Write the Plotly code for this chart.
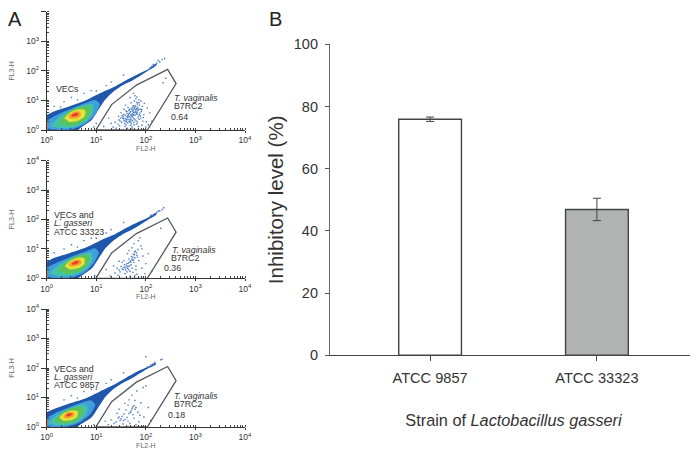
import plotly.graph_objects as go

# panel B values
STRAINS = ['ATCC 9857', 'ATCC 33323']
INHIBITION = [75.9, 46.9]
INHIBITION_ERR = [0.7, 3.6]
BAR_COLORS = ['white', '#b1b3b3']

# flow cytometry panels, all values are log10 decades
GATE_X = [0.99, 1.31, 1.81, 2.44, 2.61, 2.03, 0.99]
GATE_Y = [0, 0.86, 1.52, 2.05, 1.57, 0, 0]

LAYER_COLORS = ['#1f57ad', '#3f9fdc', '#45c3a8', '#5cc25a', '#e6e23a', '#f4a22d', '#e8432a']

A1_BLUE_X = [0, .134, .403, .805, 1.074, 1.342, 1.611, 1.879, 2.047, 2.215, 2.215, 2.013, 1.745, 1.544, 1.342, 1.174, 1.04, .906, .671, .638, 0]
A1_BLUE_Y = [.507, .62, .767, 1.015, 1.24, 1.443, 1.691, 1.917, 2.052, 2.255, 2.187, 1.973, 1.691, 1.522, 1.297, 1.015, .677, .338, .056, 0, 0]
A1_L1_X = [0, .2, .47, .77, .97, 1.07, .97, .77, .5, .07, 0]
A1_L1_Y = [.316, .507, .699, .902, 1.015, .879, .507, .203, .023, .023, .1]
A1_L2_X = [.07, .27, .5, .77, .93, .94, .81, .57, .27]
A1_L2_Y = [.135, .451, .676, .846, .879, .62, .316, .113, .056]
A1_L3_X = [.235, .37, .57, .79, .886, .84, .67, .436]
A1_L3_Y = [.248, .507, .733, .812, .733, .451, .225, .135]
A1_L4_X = [.35, .47, .64, .77, .77, .64, .456]
A1_L4_Y = [.395, .586, .699, .676, .473, .316, .27]
A1_L5_X = [.436, .537, .67, .69, .59, .47]
A1_L5_Y = [.473, .609, .62, .485, .395, .383]
A1_L6_X = [.497, .59, .65, .604, .51]
A1_L6_Y = [.507, .586, .552, .473, .451]

A2_BLUE_X = [0, .134, .403, .805, 1.074, 1.342, 1.611, 1.879, 2.047, 2.215, 2.215, 2.013, 1.745, 1.544, 1.342, 1.174, 1.04, .906, .671, .638, 0]
A2_BLUE_Y = [.56, .68, .83, 1.06, 1.28, 1.47, 1.72, 1.94, 2.07, 2.24, 2.17, 1.96, 1.68, 1.51, 1.28, 1.0, .66, .33, .05, 0, 0]
A2_L1_X = [0, .2, .47, .77, .97, 1.05, .95, .77, .5, .07, 0]
A2_L1_Y = [.36, .53, .72, .9, 1.02, .88, .52, .21, .03, .03, .1]
A2_L2_X = [.05, .25, .5, .75, .9, .92, .8, .57, .27]
A2_L2_Y = [.16, .46, .68, .83, .87, .62, .33, .12, .07]
A2_L3_X = [.22, .36, .57, .78, .87, .82, .66, .42]
A2_L3_Y = [.26, .51, .74, .81, .73, .46, .24, .15]
A2_L4_X = [.36, .47, .63, .76, .76, .63, .46]
A2_L4_Y = [.42, .59, .7, .68, .49, .34, .3]
A2_L5_X = [.44, .54, .68, .7, .58, .47]
A2_L5_Y = [.48, .61, .63, .5, .41, .4]
A2_L6_X = [.5, .6, .66, .6, .52]
A2_L6_Y = [.52, .59, .56, .48, .46]

A3_BLUE_X = [0, .134, .403, .805, 1.074, 1.342, 1.611, 1.879, 2.047, 2.2, 2.2, 2.013, 1.745, 1.544, 1.342, 1.174, 1.04, .906, .66, .62, 0]
A3_BLUE_Y = [.5, .6, .76, .98, 1.2, 1.42, 1.68, 1.92, 2.04, 2.18, 2.12, 1.96, 1.68, 1.5, 1.28, 1.0, .66, .33, .06, 0, 0]
A3_L1_X = [0, .17, .42, .7, .9, .98, .88, .68, .42, .05, 0]
A3_L1_Y = [.3, .47, .64, .82, .9, .76, .44, .17, .02, .02, .1]
A3_L2_X = [.04, .2, .42, .66, .8, .82, .7, .48, .2]
A3_L2_Y = [.14, .4, .6, .74, .76, .54, .27, .09, .05]
A3_L3_X = [.14, .27, .46, .66, .74, .7, .54, .32]
A3_L3_Y = [.2, .42, .62, .68, .6, .36, .17, .11]
A3_L4_X = [.25, .36, .5, .62, .62, .5, .33]
A3_L4_Y = [.32, .48, .56, .54, .36, .24, .21]
A3_L5_X = [.33, .43, .54, .56, .46, .36]
A3_L5_Y = [.38, .5, .5, .38, .3, .29]
A3_L6_X = [.39, .47, .52, .47, .4]
A3_L6_Y = [.42, .47, .44, .37, .35]

A1_DOTS = [(1.62,.62),(1.68,.58),(1.71,.70),(1.74,.66),(1.77,.74),(1.80,.68),(1.83,.78),(1.66,.44),(1.70,.52),(1.75,.60),
           (1.79,.64),(1.84,.72),(1.87,.84),(1.60,.36),(1.64,.48),(1.69,.40),(1.73,.56),(1.78,.50),(1.82,.60),(1.86,.92),
           (1.58,.30),(1.63,.42),(1.67,.34),(1.72,.46),(1.76,.38),(1.81,.54),(1.85,.46),(1.90,.70),(1.55,.38),(1.61,.28),
           (1.65,.52),(1.70,.30),(1.74,.42),(1.79,.34),(1.83,.88),(1.88,.58),(1.93,.80),(1.52,.48),(1.57,.22),(1.62,.56),
           (1.68,.26),(1.73,.32),(1.77,.98),(1.84,.40),(1.91,.62),(1.97,.90),(1.48,.30),(1.54,.44),(1.60,.18),(1.66,.66),
           (1.71,.22),(1.76,.26),(1.82,.30),(1.89,.48),(1.96,.52),(2.03,.74),(1.44,.20),(1.50,.58),(1.58,.12),(1.64,.76),
           (1.69,.16),(1.75,.82),(1.81,.20),(1.87,.36),(1.94,.30),(2.08,.58),(1.38,.26),(1.47,.14),(1.56,.70),(1.63,.06),
           (1.72,.10),(1.80,1.06),(1.92,.16),(2.01,.28),(1.34,.10),(1.46,.34),(1.59,.84),(1.70,.92),(1.78,1.16),(1.86,1.02),
           (2.00,.10),(1.75,1.24),(1.82,1.12),(1.90,.98),(1.68,1.10),(1.95,.42),(1.85,.12),(1.72,.04),(2.05,.18),(2.12,.30),
           (1.40,.06),(1.30,.22),(1.25,.40),(2.4,1.75),(2.35,1.6),(1.15,.12),
           (1.72,.74),(1.78,.78),(1.81,.72),(1.76,.70),(1.73,.64),(1.80,.60),(1.84,.66),(1.69,.62),(1.66,.56),(1.71,.48),
           (1.75,.52),(1.62,.46),(1.59,.40),(1.64,.36),(1.68,.46),(1.61,.34),(1.56,.32),(1.53,.40),(1.58,.50),(1.66,.28),
           (1.74,.50),(1.77,.58),(1.83,.54),(1.86,.70),(1.79,.82),(1.82,.94),(1.74,.78),(1.70,.36),(1.63,.24),(1.51,.26),
           (1.87,.52),(1.92,.68),(1.90,.40),(1.67,.70),(1.60,.64),(1.55,.52),(1.49,.40),(1.45,.46),(1.76,.18),(1.83,.24)]
A2_DOTS = [(1.66,.66),(1.71,.74),(1.75,.82),(1.79,.92),(1.68,.56),(1.73,.62),(1.78,.70),(1.62,.50),(1.70,.46),(1.76,.54),
           (1.82,.78),(1.60,.38),(1.65,.30),(1.72,.34),(1.84,.98),(1.57,.46),(1.54,.30),(1.50,.40),(1.48,.22),(1.58,.16),
           (1.64,.40),(1.68,.24),(1.74,.20),(1.80,.42),(1.86,.60),(1.90,1.10),(1.94,.76),(1.42,.34),(1.38,.18),(1.44,.10),
           (1.56,.60),(1.63,.84),(1.76,1.18),(1.85,1.28),(1.92,.34),(2.0,.50),(2.05,.84),(1.35,.42),(1.28,.08),(1.68,.08),
           (1.82,.14),(1.98,.16),(1.88,1.38),(1.72,1.04),(1.52,.54),(1.46,.58),(1.80,.30),(2.12,.24),(1.62,.22),(1.20,.30),
           (2.3,1.7),(1.78,.10),(1.92,1.0),(1.66,.94),
           (1.74,.72),(1.77,.80),(1.72,.66),(1.69,.60),(1.65,.52),(1.61,.44),(1.58,.36),(1.63,.34),(1.55,.38),(1.52,.32),
           (1.70,.54),(1.75,.62),(1.81,.86),(1.77,.90),(1.83,.72),(1.67,.42),(1.59,.28),(1.46,.28)]
A3_DOTS = [(1.62,.32),(1.58,.26),(1.52,.36),(1.48,.22),(1.44,.30),(1.40,.18),(1.56,.44),(1.66,.46),(1.72,.62),(1.76,.72),
           (1.70,.54),(1.80,.66),(1.74,.42),(1.84,.50),(1.64,.74),(1.60,.58),(1.36,.12),(1.30,.24),(1.68,.12),(1.78,.90),
           (1.90,.82),(1.96,.34),(1.86,.18),(1.54,.10),(1.42,.46),(1.72,1.08),(1.82,1.22),(1.95,1.34),(2.05,.66),(2.1,.22),
           (1.66,.92),(1.58,.80),(1.46,.60),(1.76,.30),(1.24,.08),(2.0,1.4),(1.88,.40),(1.18,.20),(1.64,.2),(1.8,.08),
           (1.5,.28),(1.46,.34),(1.55,.22),(1.73,.68),(1.78,.60),(1.69,.5)]

# stray events around the main population
A1_STRAY = [(2.08,2.1),(2.12,2.16),(2.18,2.2),(2.22,2.27),(2.28,2.3),(2.33,2.38),(2.38,2.42),(2.1,2.08),(2.15,2.22),(2.25,2.35),
            (.9,1.33),(.5,1.1),(1.3,1.62),(.75,1.24),(1.55,1.86),(.35,.95),(.15,.8),(1.0,1.32),(.62,1.02),(1.2,1.5),(.28,.78),(.95,.1),(1.0,.22)]
A2_STRAY = [(2.08,2.08),(2.12,2.15),(2.18,2.2),(2.22,2.25),(2.28,2.3),(2.33,2.34),(2.36,2.4),(2.1,2.14),(2.15,2.12),(2.25,2.28),
            (.9,1.36),(.5,1.14),(1.3,1.66),(.75,1.28),(1.55,1.9),(.35,1.0),(.15,.86),(1.0,1.36),(.62,1.06),(1.2,1.54),(.97,.1),(.28,2.0),(.8,1.9)]
A3_STRAY = [(2.05,2.04),(2.1,2.1),(2.14,2.14),(2.18,2.2),(2.3,2.28),(2.33,2.3),(2.0,2.38),(2.02,2.02),(2.12,2.08),
            (.9,1.28),(.5,1.06),(1.3,1.6),(.75,1.2),(1.55,1.84),(.35,.92),(1.0,1.28),(.62,.98),(1.2,1.48),(.95,.08)]

MAJOR_TICKS = [1, 10, 100, 1000, 10000]
MAJOR_LABELS = ['10<sup>0</sup>', '10<sup>1</sup>', '10<sup>2</sup>', '10<sup>3</sup>', '10<sup>4</sup>']

FONT = 'Liberation Sans'

# the page body adds 8px round the figure
FIG_W, FIG_H, BODY = 690, 442, 8


def xdom(left, right):
    return [(left - BODY) / FIG_W, (right - BODY) / FIG_W]


def ydom(top, bottom):
    return [1 - (bottom - BODY) / FIG_H, 1 - (top - BODY) / FIG_H]


def unlog(vals):
    return [10 ** v for v in vals]


def add_flow(fig, n, layers, dots, stray):
    xa, ya = f'x{n}', f'y{n}'
    for (lx, ly), col in zip(layers, LAYER_COLORS):
        fig.add_trace(go.Scatter(x=unlog(lx), y=unlog(ly), xaxis=xa, yaxis=ya, mode='lines', fill='toself',
                                 fillcolor=col, line=dict(width=0, shape='spline', smoothing=0.7), showlegend=False))
    pts = dots + stray
    fig.add_trace(go.Scatter(x=unlog([p[0] for p in pts]), y=unlog([p[1] for p in pts]), xaxis=xa, yaxis=ya,
                             mode='markers', marker=dict(size=1.4, color='#4a7cc0', symbol='square', line=dict(width=0)),
                             showlegend=False))
    # orange strip against the y axis
    fig.add_trace(go.Scatter(x=[1, 1], y=unlog([0, .3]), xaxis=xa, yaxis=ya, mode='lines',
                             line=dict(color='#e0762c', width=2), showlegend=False))
    fig.add_trace(go.Scatter(x=unlog(GATE_X), y=unlog(GATE_Y), xaxis=xa, yaxis=ya, mode='lines',
                             line=dict(color='#55585a', width=1.3), showlegend=False))


def flow_axis(title, domain, anchor, standoff, ticklen):
    return dict(type='log', range=[0, 4], domain=domain, anchor=anchor, showgrid=False, zeroline=False, automargin=False,
                showline=True, linecolor='#333', linewidth=1, ticks='outside', ticklen=ticklen, tickwidth=1, tickcolor='#333',
                tickvals=MAJOR_TICKS, ticktext=MAJOR_LABELS, tickfont=dict(family=FONT, size=8.5, color='#333'),
                minor=dict(ticks='inside', ticklen=2, tickwidth=0.6, tickcolor='#444', dtick='D1', showgrid=False),
                title=dict(text=title, font=dict(family=FONT, size=7, color='#666'), standoff=standoff))


fig = go.Figure()
add_flow(fig, 1, [(A1_BLUE_X, A1_BLUE_Y), (A1_L1_X, A1_L1_Y), (A1_L2_X, A1_L2_Y), (A1_L3_X, A1_L3_Y),
                  (A1_L4_X, A1_L4_Y), (A1_L5_X, A1_L5_Y), (A1_L6_X, A1_L6_Y)], A1_DOTS, A1_STRAY)
add_flow(fig, 2, [(A2_BLUE_X, A2_BLUE_Y), (A2_L1_X, A2_L1_Y), (A2_L2_X, A2_L2_Y), (A2_L3_X, A2_L3_Y),
                  (A2_L4_X, A2_L4_Y), (A2_L5_X, A2_L5_Y), (A2_L6_X, A2_L6_Y)], A2_DOTS, A2_STRAY)
add_flow(fig, 3, [(A3_BLUE_X, A3_BLUE_Y), (A3_L1_X, A3_L1_Y), (A3_L2_X, A3_L2_Y), (A3_L3_X, A3_L3_Y),
                  (A3_L4_X, A3_L4_Y), (A3_L5_X, A3_L5_Y), (A3_L6_X, A3_L6_Y)], A3_DOTS, A3_STRAY)

fig.add_trace(go.Bar(x=STRAINS, y=INHIBITION, xaxis='x4', yaxis='y4', width=0.376, showlegend=False,
                     marker=dict(color=BAR_COLORS, line=dict(color='#444', width=1.4)),
                     error_y=dict(type='data', array=INHIBITION_ERR, color='#444', thickness=1, width=4)))

X_DOM = xdom(46.7, 245)
fig.update_layout(
    width=FIG_W, height=FIG_H, margin=dict(l=0, r=0, t=0, b=0), autosize=False,
    paper_bgcolor='white', plot_bgcolor='white', showlegend=False,
    xaxis=flow_axis('FL2-H', X_DOM, 'y', 0, 2), yaxis=flow_axis('FL3-H', ydom(11.7, 130), 'x', 20, 5),
    xaxis2=flow_axis('FL2-H', X_DOM, 'y2', 0, 2), yaxis2=flow_axis('FL3-H', ydom(160.7, 278.3), 'x2', 20, 5),
    xaxis3=flow_axis('FL2-H', X_DOM, 'y3', 0, 2), yaxis3=flow_axis('FL3-H', ydom(309, 427), 'x3', 20, 5),
    xaxis4=dict(domain=xdom(330, 697), anchor='y4', range=[-0.6, 1.6], type='category', showgrid=False, zeroline=False,
                automargin=False, showline=True, linecolor='#444', linewidth=1.2, ticks='outside', ticklen=5, tickwidth=1,
                tickcolor='#444', tickfont=dict(family=FONT, size=14.6, color='#333'), ticklabelstandoff=4,
                title=dict(text='Strain of <i>Lactobacillus gasseri</i>', font=dict(family=FONT, size=16.3, color='#333'), standoff=29)),
    yaxis4=dict(domain=ydom(44.3, 355.3), anchor='x4', range=[0, 100], dtick=20, showgrid=False, zeroline=False,
                automargin=False, showline=True, linecolor='#666', linewidth=1.2, ticks='outside', ticklen=4, tickwidth=1,
                tickcolor='#555', tickfont=dict(family=FONT, size=14.5, color='#333'), ticklabelstandoff=4,
                title=dict(text='Inhibitory level (%)', font=dict(family=FONT, size=20.5, color='#333'), standoff=4)),
)

# (axis number, text, log10 x of left edge, log10 y of centre)
LABELS = [(1, 'VECs', .167, 1.385), (1, '<i>T. vaginalis</i>', 2.55, 1.08), (1, 'B7RC2', 2.54, .81), (1, '0.64', 2.486, .43),
          (2, 'VECs and', .134, 2.17), (2, '<i>L. gasseri</i>', .134, 1.875), (2, 'ATCC 33323', .134, 1.59),
          (2, '<i>T. vaginalis</i>', 2.506, .977), (2, 'B7RC2', 2.486, .705), (2, '0.36', 2.35, .364),
          (3, 'VECs and', .121, 1.96), (3, '<i>L. gasseri</i>', .121, 1.70), (3, 'ATCC 9857', .121, 1.41),
          (3, '<i>T. vaginalis</i>', 2.553, 1.06), (3, 'B7RC2', 2.54, .79), (3, '0.18', 2.42, .405)]
for n, txt, lx, ly in LABELS:
    fig.add_annotation(text=txt, x=lx, y=ly, xref=f'x{n}', yref=f'y{n}', xanchor='left', yanchor='middle',
                       showarrow=False, xshift=-1, font=dict(family=FONT, size=8.8, color='#333'))

# panel letters sit as high as the page margin allows
fig.add_annotation(text='A', x=0, y=1, xref='paper', yref='paper', xanchor='left', yanchor='top', borderpad=0, borderwidth=0,
                   showarrow=False, font=dict(family=FONT, size=20, color='#222'))
fig.add_annotation(text='B', x=(269 - BODY) / FIG_W, y=1, xref='paper', yref='paper', xanchor='left', yanchor='top', borderpad=0, borderwidth=0,
                   showarrow=False, font=dict(family=FONT, size=20, color='#222'))

fig.write_html("out.html")
